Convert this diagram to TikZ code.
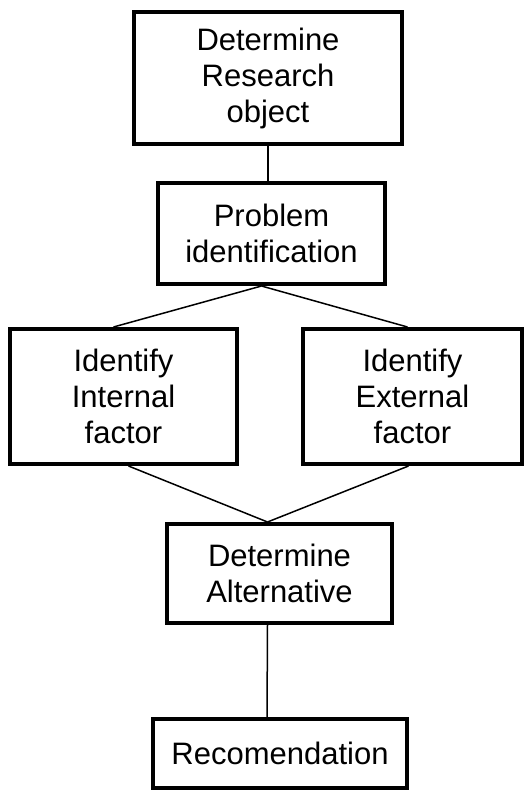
\documentclass[tikz,border=0pt]{standalone}
\usepackage{fontspec}
\setmainfont{Liberation Sans}
\usetikzlibrary{positioning}

\begin{document}
\begin{tikzpicture}[
      x=1pt,
      y=-1pt,
      link/.style={line width=1.5pt},
      box/.style={draw, line width=4pt, align=center, inner sep=2pt,
        font=\fontsize{31}{36}\selectfont},
      wide/.style={box, minimum width=227pt, minimum height=135pt}
    ]
    \useasboundingbox (0,0) rectangle (528,792);
    \node[box, minimum width=268pt, minimum height=132pt] (object) at (268,78)
      {Determine\\Research\\object};
    \node[box, minimum width=227pt, minimum height=101pt] (problem) at (271.5,233.5)
      {Problem\\identification};
    \node[wide] (internal) at (123.5,396.5) {Identify\\Internal\\factor};
    \node[wide, minimum width=219pt] (external) at (412.5,396.5)
      {Identify\\External\\factor};
    \node[box, minimum width=225pt, minimum height=99pt] (alternative) at (279.5,573.5)
      {Determine\\Alternative};
    \node[box, minimum width=254pt, minimum height=69pt] (recom) at (280,753.5)
      {Recomendation};

    \draw[link] (object.south) -- (object.south |- problem.north);
    \draw[link] ([xshift=-10pt]problem.south) -- ([xshift=-10pt]internal.north);
    \draw[link] ([xshift=-10pt]problem.south) -- ([xshift=-5pt]external.north);
    \draw[link] ([xshift=5pt]internal.south) -- ([xshift=-12pt]alternative.north);
    \draw[link] ([xshift=-4pt]external.south) -- ([xshift=-12pt]alternative.north);
    \draw[link] ([xshift=-12pt]alternative.south) -- ([xshift=-13pt]recom.north);
  \end{tikzpicture}
\end{document}
